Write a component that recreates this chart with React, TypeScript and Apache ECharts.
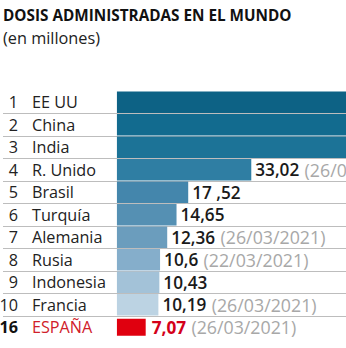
import React, { useEffect, useRef } from "react";
import * as echarts from "echarts";

const ranks = ["1", "2", "3", "4", "5", "6", "7", "8", "9", "10", "16"];
const countries = ["EE UU", "China", "India", "R. Unido", "Brasil", "Turquía", "Alemania", "Rusia", "Indonesia", "Francia", "ESPAÑA"];
const values = [136.7, 100.0, 58.1, 33.02, 17.52, 14.65, 12.36, 10.6, 10.43, 10.19, 7.07];
const valueLabels = ["136,7", "100", "58,1", "33,02", "17 ,52", "14,65", "12,36", "10,6", "10,43", "10,19", "7,07"];
const dates = ["", "", "", "(26/03/2021)", "", "", "(26/03/2021)", "(22/03/2021)", "", "(26/03/2021)", "(26/03/2021)"];
const barColors = ["#0d6285", "#126b8f", "#1c7397", "#2f7ea3", "#4486ac", "#5590b3", "#6b9dbd", "#85aecb", "#a3c2d8", "#bcd3e3", "#e0000f"];
const highlightIndex = 10;

const FONT = "'Open Sans', 'Noto Sans', sans-serif";

export default function App() {
  const ref = useRef<HTMLDivElement>(null);
  useEffect(() => {
    if (!ref.current) return;
    const chart = echarts.init(ref.current, null, { renderer: "svg" });
    const n = countries.length;
    const mainData = values.map((v, i) =>
      i === highlightIndex ? null : { value: v, itemStyle: { color: barColors[i] } }
    );
    const hlData = values.map((v, i) =>
      i === highlightIndex ? { value: v, itemStyle: { color: barColors[i] } } : null
    );
    const splitColors = ["rgba(0,0,0,0)"].concat(Array(n - 1).fill("#bdbdbd"));
    const labelFormatter = (p: any) => {
      const i = p.dataIndex;
      const d = dates[i] ? ` {d|${dates[i]}}` : "";
      return i === highlightIndex ? `{vr|${valueLabels[i]}}${d}` : `{v|${valueLabels[i]}}${d}`;
    };
    const labelRich = {
      v: { fontFamily: FONT, fontSize: 17.2, fontWeight: 600, color: "#1a1a1a" },
      vr: { fontFamily: FONT, fontSize: 17.2, fontWeight: 700, color: "#d4001a" },
      d: { fontFamily: FONT, fontSize: 17.8, fontWeight: 400, color: "#a8a8a8", padding: [0, 0, 0, 2] },
    };
    chart.setOption({
      animation: false,
      title: [
        {
          text: "DOSIS ADMINISTRADAS EN EL MUNDO",
          left: 3,
          top: 7,
          padding: 0,
          textStyle: { fontFamily: FONT, fontSize: 15.3, fontWeight: 700, color: "#111", lineHeight: 16 },
        },
        {
          text: "(en millones)",
          left: 3,
          top: 29,
          padding: 0,
          textStyle: { fontFamily: FONT, fontSize: 16.3, fontWeight: 400, color: "#222", lineHeight: 17 },
        },
      ],
      grid: { left: 3, right: 0, top: 91, height: 247.5, containLabel: false, outerBoundsMode: "none" },
      xAxis: { type: "value", min: -28, max: 56.3, show: false },
      yAxis: [
        {
          type: "category",
          position: "left",
          data: countries,
          inverse: true,
          axisLine: { show: false, onZero: false },
          axisTick: { show: false },
          splitLine: { show: true, lineStyle: { color: splitColors, width: 1 } },
          axisLabel: {
            margin: -29,
            align: "left",
            fontFamily: FONT,
            fontSize: 16.2,
            color: (val: string, idx: number) => (idx === highlightIndex ? "#d0202a" : "#222"),
          },
        },
        {
          type: "category",
          position: "left",
          data: ranks,
          inverse: true,
          axisLine: { show: false, onZero: false },
          axisTick: { show: false },
          splitLine: { show: false },
          axisLabel: {
            margin: -15,
            align: "right",
            formatter: (val: string, idx: number) =>
              idx === highlightIndex ? `{b|${val}}` : `{r|${val}}`,
            rich: {
              r: { fontFamily: FONT, fontSize: 16.2, color: "#222" },
              b: { fontFamily: FONT, fontSize: 16.2, fontWeight: 700, color: "#111" },
            },
          },
        },
      ],
      series: [
        {
          type: "bar",
          yAxisIndex: 0,
          data: mainData,
          barWidth: 21.5,
          clip: true,
          label: {
            show: true,
            position: "right",
            distance: 3,
            formatter: labelFormatter,
            rich: labelRich,
            backgroundColor: "#fff",
            padding: [1, 3, 1, 1],
          },
        },
        {
          type: "bar",
          yAxisIndex: 1,
          data: hlData,
          barWidth: 17,
          clip: true,
          label: {
            show: true,
            position: "right",
            distance: 6,
            formatter: labelFormatter,
            rich: labelRich,
          },
        },
      ],
    });
    return () => chart.dispose();
  }, []);
  return (
    <div
      ref={ref}
      style={{ position: "fixed", left: 0, top: 0, width: 346, height: 348, background: "#fff" }}
    />
  );
}
